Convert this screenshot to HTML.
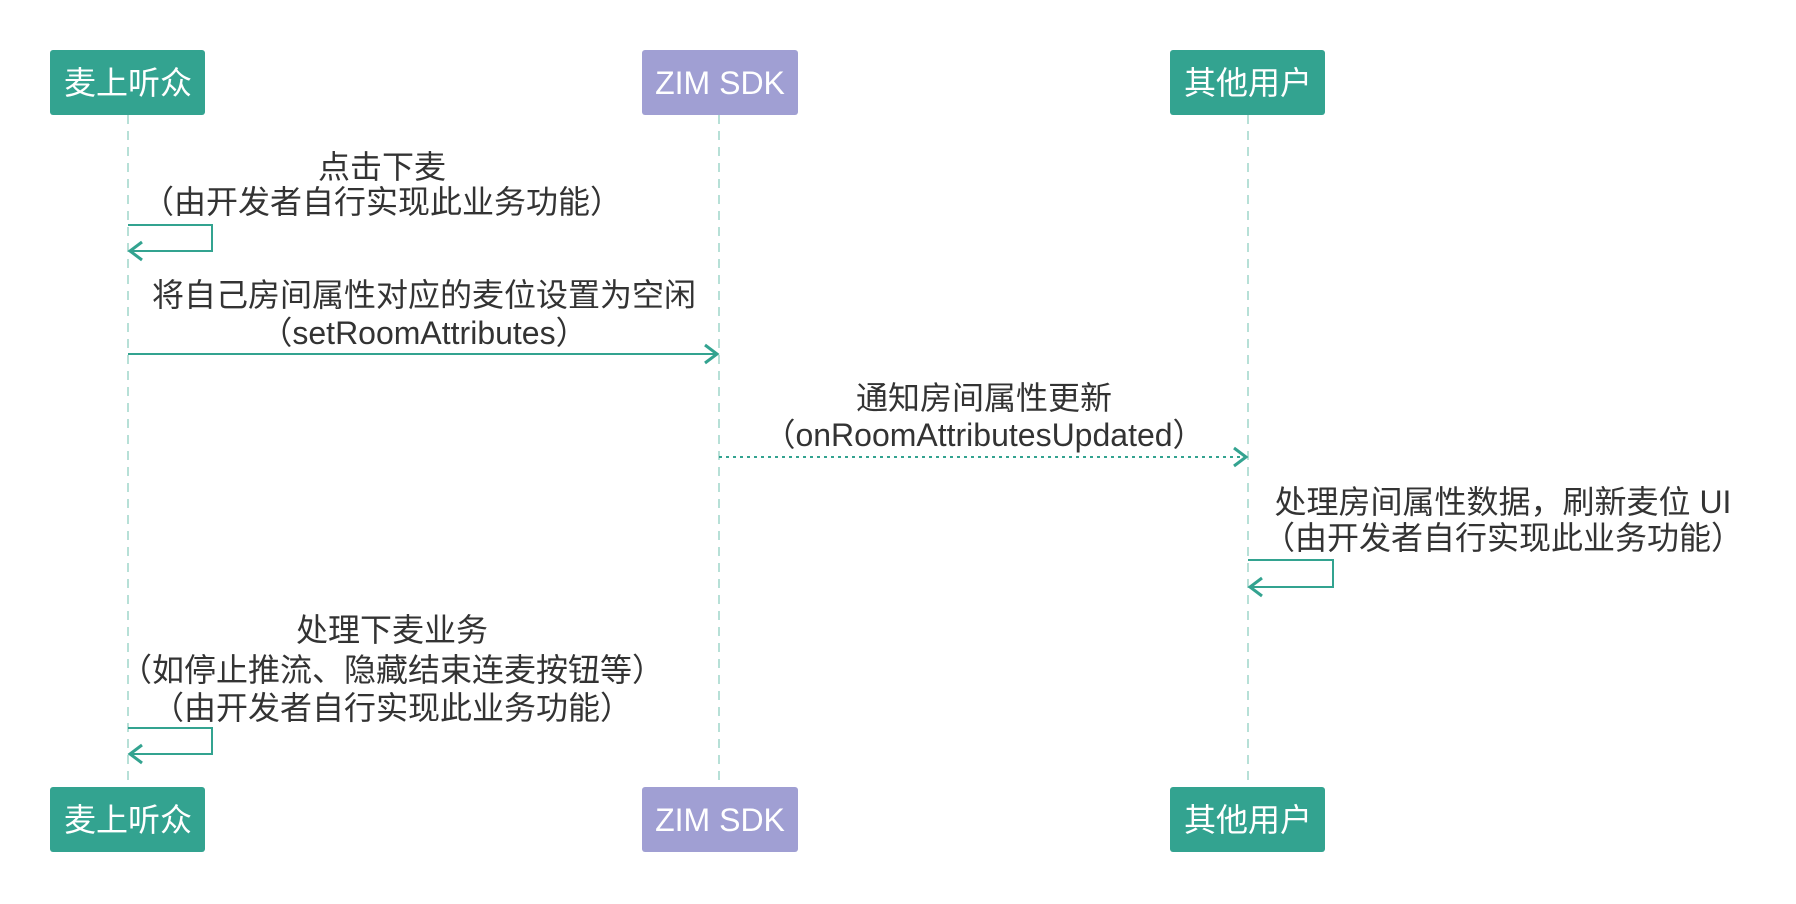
<!DOCTYPE html>
<html><head><meta charset="utf-8"><style>
html,body{margin:0;padding:0;background:#fff;}
svg{display:block;}
text{font-family:"Liberation Sans","Noto Sans CJK SC",sans-serif;}
</style></head><body>
<svg width="1796" height="904" viewBox="0 0 1796 904" xmlns="http://www.w3.org/2000/svg">
<defs>
<marker id="ah" markerWidth="20" markerHeight="24" refX="17" refY="12" orient="auto" markerUnits="userSpaceOnUse">
<path d="M5,3 L17,12 L5,21" fill="none" stroke="#33a390" stroke-width="3"/>
</marker>
</defs>
<g stroke="#9fd5ca" stroke-width="1.5" stroke-dasharray="9,7">
<line x1="128" y1="115" x2="128" y2="787"/>
<line x1="719" y1="115" x2="719" y2="787"/>
<line x1="1248" y1="115" x2="1248" y2="787"/>
</g>
<g>
<rect x="50" y="50" width="155" height="65" rx="3" fill="#33a390"/>
<rect x="642" y="50" width="156" height="65" rx="3" fill="#a09fd3"/>
<rect x="1170" y="50" width="155" height="65" rx="3" fill="#33a390"/>
<rect x="50" y="787" width="155" height="65" rx="3" fill="#33a390"/>
<rect x="642" y="787" width="156" height="65" rx="3" fill="#a09fd3"/>
<rect x="1170" y="787" width="155" height="65" rx="3" fill="#33a390"/>
</g>
<g fill="#fff" font-size="32" text-anchor="middle" dominant-baseline="central">
<text x="128" y="83">麦上听众</text>
<text x="720" y="83">ZIM SDK</text>
<text x="1248" y="83">其他用户</text>
<text x="128" y="820">麦上听众</text>
<text x="720" y="820">ZIM SDK</text>
<text x="1248" y="820">其他用户</text>
</g>
<g fill="none" stroke="#33a390" stroke-width="2">
<polyline points="128,225 212,225 212,251 130,251" marker-end="url(#ah)"/>
<line x1="128" y1="354" x2="717" y2="354" marker-end="url(#ah)"/>
<line x1="719" y1="457" x2="1246" y2="457" stroke-dasharray="3,4" marker-end="url(#ah)"/>
<polyline points="1248,560 1333,560 1333,587 1250,587" marker-end="url(#ah)"/>
<polyline points="128,728 212,728 212,754 130,754" marker-end="url(#ah)"/>
</g>
<g fill="#333" font-size="32" text-anchor="middle" dominant-baseline="central">
<text x="382" y="167">点击下麦</text>
<text x="382" y="202">（由开发者自行实现此业务功能）</text>
<text x="424" y="295">将自己房间属性对应的麦位设置为空闲</text>
<text x="424" y="333">（setRoomAttributes）</text>
<text x="984" y="398">通知房间属性更新</text>
<text x="984" y="435">（onRoomAttributesUpdated）</text>
<text x="1503" y="502">处理房间属性数据，刷新麦位 UI</text>
<text x="1503" y="538">（由开发者自行实现此业务功能）</text>
<text x="392" y="630">处理下麦业务</text>
<text x="392" y="670">（如停止推流、隐藏结束连麦按钮等）</text>
<text x="392" y="708">（由开发者自行实现此业务功能）</text>
</g>
</svg>
</body></html>
